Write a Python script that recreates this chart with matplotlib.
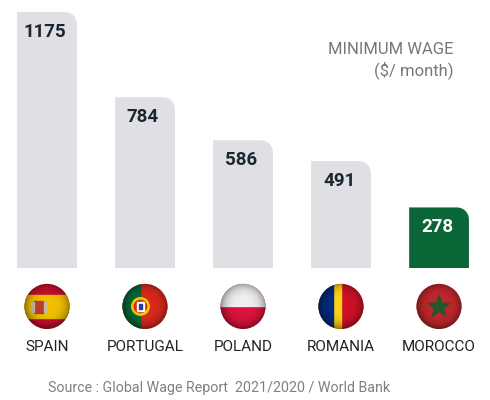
import numpy as np
import matplotlib
matplotlib.use('Agg')
import matplotlib.pyplot as plt
from matplotlib.path import Path
from matplotlib.patches import PathPatch, Circle, Rectangle, Polygon
from matplotlib.transforms import IdentityTransform, blended_transform_factory

# data
countries = ['SPAIN', 'PORTUGAL', 'POLAND', 'ROMANIA', 'MOROCCO']
wages = [1175, 784, 586, 491, 278]
bar_colors = ['#dfdfe4', '#dfdfe4', '#dfdfe4', '#dfdfe4', '#0b6637']
label_colors = ['#1b2631', '#1b2631', '#1b2631', '#1b2631', 'white']
source = 'Source : Global Wage Report  2021/2020 / World Bank'

plt.rcParams['font.family'] = ['Roboto', 'DejaVu Sans']

fig = plt.figure(figsize=(4.9, 4.0), dpi=100)
ax = fig.add_axes([0, 132 / 400, 1, 256 / 400])
x = np.arange(len(countries))
bars = ax.bar(x, wages, width=0.61, color=bar_colors)
ax.set_xlim(-0.48, 4.52)
ax.set_ylim(0, max(wages))
ax.axis('off')

# swap each bar for one with a rounded top-right corner (radius in pixels)
r = 12
k = 0.552 * r
for b in bars:
    (x0, y0), (x1, y1) = ax.transData.transform(
        [(b.get_x(), 0), (b.get_x() + b.get_width(), b.get_height())])
    verts = [(x0, y0), (x1, y0), (x1, y1 - r), (x1, y1 - r + k), (x1 - r + k, y1),
             (x1 - r, y1), (x0, y1), (x0, y0)]
    codes = [Path.MOVETO, Path.LINETO, Path.LINETO, Path.CURVE4, Path.CURVE4,
             Path.CURVE4, Path.LINETO, Path.CLOSEPOLY]
    ax.add_patch(PathPatch(Path(verts, codes), facecolor=b.get_facecolor(),
                           edgecolor='none', transform=IdentityTransform(), clip_on=False))
    b.set_visible(False)

# value labels just under the bar tops
for xi, v, c in zip(x, wages, label_colors):
    ax.annotate(str(v), (xi - 0.02, v), xytext=(0, -20), textcoords='offset pixels',
                ha='center', va='center', fontsize=13.5, fontweight='bold', color=c)

trans = blended_transform_factory(ax.transData, ax.transAxes)


def star(cx, cy, ro, ri):
    pts = []
    for i in range(10):
        a = np.pi / 2 + i * np.pi / 5
        rr = ro if i % 2 == 0 else ri
        pts.append((cx + rr * np.cos(a), cy + rr * np.sin(a)))
    return pts


def draw_flag(fax, name):
    fax.set_xlim(-1, 1)
    fax.set_ylim(-1, 1)
    fax.axis('off')
    circ = Circle((0, 0), 0.98, transform=fax.transData)
    parts = []
    if name == 'SPAIN':
        parts.append(Rectangle((-1, -1), 2, 2, color='#c8102e'))
        parts.append(Rectangle((-1, -0.5), 2, 1, color='#f1bf00'))
        parts.append(Rectangle((-0.55, -0.3), 0.38, 0.55, color='#b5402a'))
        parts.append(Rectangle((-0.68, -0.25), 0.1, 0.45, color='#c9b79c'))
        parts.append(Rectangle((-0.14, -0.25), 0.1, 0.45, color='#c9b79c'))
    elif name == 'PORTUGAL':
        parts.append(Rectangle((-1, -1), 2, 2, color='#da291c'))
        parts.append(Rectangle((-1, -1), 0.8, 2, color='#046a38'))
        parts.append(Circle((-0.2, 0), 0.38, color='#f5d000'))
        parts.append(Circle((-0.2, 0), 0.27, color='#da291c'))
        parts.append(Rectangle((-0.35, -0.18), 0.3, 0.36, color='white'))
        parts.append(Rectangle((-0.26, -0.1), 0.12, 0.2, color='#1f3f99'))
    elif name == 'POLAND':
        parts.append(Rectangle((-1, -1), 2, 2, color='#dc143c'))
        parts.append(Rectangle((-1, 0), 2, 1, color='#eeeeee'))
    elif name == 'ROMANIA':
        parts.append(Rectangle((-1, -1), 2, 2, color='#ce1126'))
        parts.append(Rectangle((-1, -1), 2 / 3 + 0.33, 2, color='#fcd116'))
        parts.append(Rectangle((-1, -1), 0.67, 2, color='#002b7f'))
    else:
        parts.append(Rectangle((-1, -1), 2, 2, color='#c1272d'))
        parts.append(Polygon(star(0, -0.02, 0.5, 0.2), color='#24572c'))
    for p in parts:
        fax.add_patch(p)
        p.set_clip_path(circ)
    # soft spherical shading
    g = np.linspace(-1, 1, 200)
    gx, gy = np.meshgrid(g, g)
    d = np.sqrt(gx ** 2 + gy ** 2)
    shade = np.zeros((200, 200, 4))
    shade[..., 3] = np.clip(0.45 * d ** 4, 0, 0.45)
    im = fax.imshow(shade, extent=(-1, 1, -1, 1), origin='lower', zorder=5)
    im.set_clip_path(circ)


fw = 0.47
for xi, name in zip(x, countries):
    fax = ax.inset_axes([xi - fw / 2, -0.240, fw, 0.1797], transform=trans)
    draw_flag(fax, name)
    ax.text(xi, -0.3105, name, transform=trans, ha='center', va='center',
            fontsize=11, color='#222222')

fig.text(453 / 490, 1 - 50 / 400, 'MINIMUM WAGE', ha='right', va='center',
         fontsize=12, color='#777777')
fig.text(453 / 490, 1 - 70 / 400, '($/ month)', ha='right', va='center',
         fontsize=12, color='#777777')
fig.text(48 / 490, 1 - 388 / 400, source, ha='left', va='center',
         fontsize=10.3, color='#808080')

fig.savefig('out.png', dpi=100)
